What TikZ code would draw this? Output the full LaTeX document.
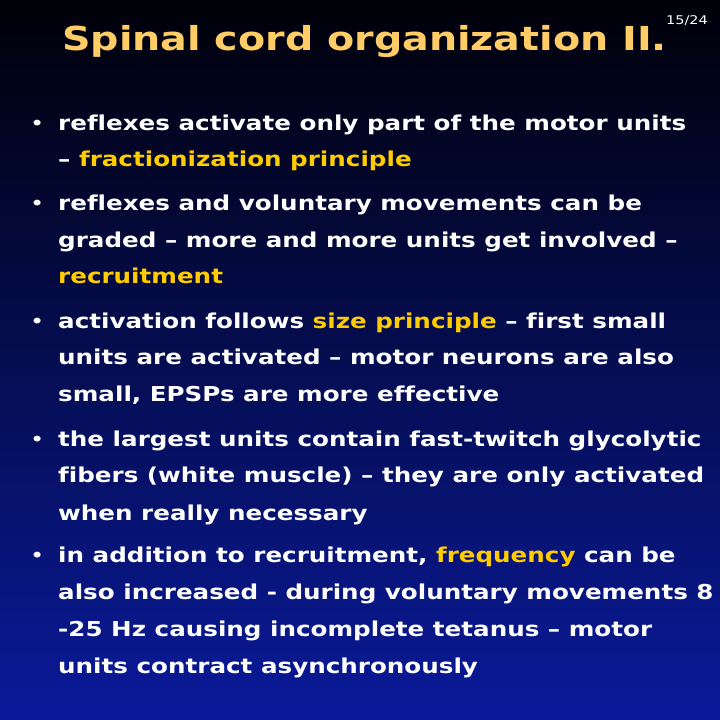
\documentclass[tikz,border=0pt]{standalone}
\usepackage{fontspec}
\setmainfont[FakeStretch=1.2,Ligatures=NoCommon]{DejaVu Sans}
\definecolor{titlec}{HTML}{FFCC66}
\definecolor{hl}{HTML}{FFCC00}
\definecolor{topc}{HTML}{000008}
\definecolor{botc}{HTML}{0A1A9A}
\tikzset{ln/.style={anchor=base west,text=white,font=\bfseries\fontsize{20.5}{24}\selectfont,inner sep=0pt},
 bul/.style={anchor=base west,text=white,font=\fontsize{20}{24}\selectfont,inner sep=0pt}}
\begin{document}
\begin{tikzpicture}[x=1pt,y=-1pt]
\shade[top color=topc,bottom color=botc] (0,0) rectangle (720,720);
\useasboundingbox (0,0) rectangle (720,720);
\node[anchor=base west,text=titlec,font=\bfseries\fontsize{33}{36}\selectfont,inner sep=0pt] (title) at (62,50) {Spinal cord organization II.};
\node[anchor=base west,text=white,font=\fontsize{12}{14}\selectfont,inner sep=0pt] (pg) at (666,24) {15/24};
\foreach \y [count=\i] in {130,210,328,446,562}
  \node[bul] (b\i) at (30,\y) {•};
\node[ln] (l1) at (58,130) {reflexes activate only part of the motor units};
\node[ln] (l2) at (58,166) {– \textcolor{hl}{fractionization principle}};
\node[ln] (l3) at (58,210) {reflexes and voluntary movements can be};
\node[ln] (l4) at (58,247) {graded – more and more units get involved –};
\node[ln] (l5) at (58,283) {\textcolor{hl}{recruitment}};
\node[ln] (l6) at (58,328) {activation follows \textcolor{hl}{size principle} – first small};
\node[ln] (l7) at (58,364) {units are activated – motor neurons are also};
\node[ln] (l8) at (58,401) {small, EPSPs are more effective};
\node[ln] (l9) at (58,446) {the largest units contain fast-twitch glycolytic};
\node[ln] (l10) at (58,482) {fibers (white muscle) – they are only activated};
\node[ln] (l11) at (58,520) {when really necessary};
\node[ln] (l12) at (58,562) {in addition to recruitment, \textcolor{hl}{frequency} can be};
\node[ln] (l13) at (58,599) {also increased - during voluntary movements 8};
\node[ln] (l14) at (58,636) {-25 Hz causing incomplete tetanus – motor};
\node[ln] (l15) at (58,673) {units contract asynchronously};
\end{tikzpicture}
\end{document}
